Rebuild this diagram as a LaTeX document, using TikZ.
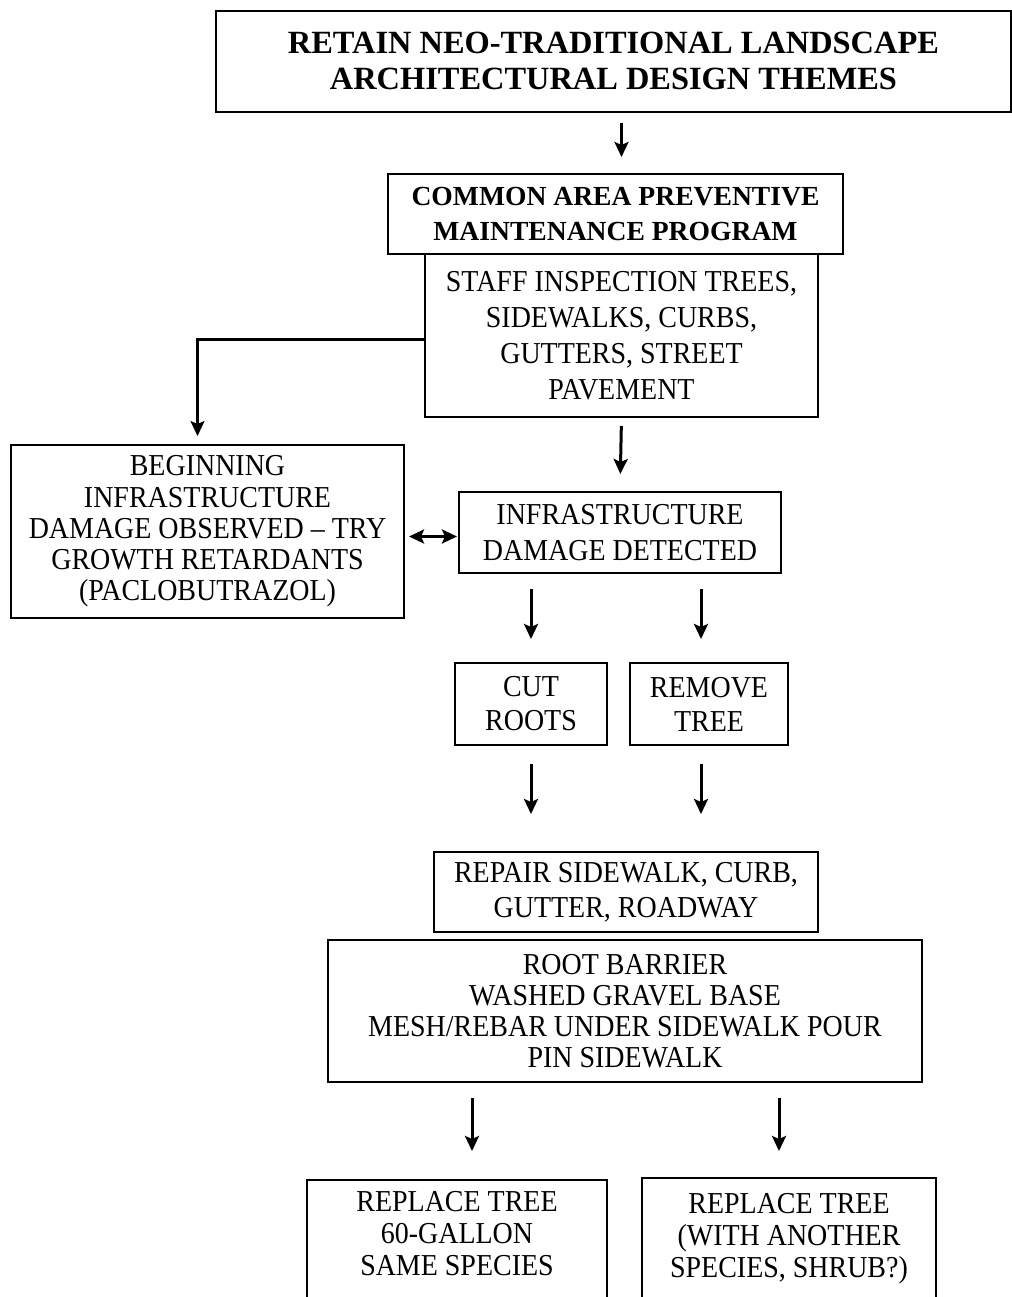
\documentclass[tikz,border=0pt]{standalone}
\usepackage{fontspec}
\setmainfont[FakeStretch=0.92]{Liberation Serif}
\newfontfamily\headfont{Liberation Serif}
\usepackage{tikz}
\usetikzlibrary{arrows.meta}

\tikzset{
  box/.style={draw, line width=1pt, align=center, inner sep=0pt,
    font=\fontsize{15.2}{17}\selectfont},
  boldbox/.style={box, font=\headfont\fontsize{16.2}{18}\selectfont\bfseries},
  arrow/.style={line width=1.5pt, -{Stealth[length=7.5pt, width=7pt, inset=1.5pt]}},
  dblarrow/.style={line width=1.5pt, {Stealth[length=7.5pt, width=7pt, inset=1.5pt]}-{Stealth[length=7.5pt, width=7pt, inset=1.5pt]}}
}

\begin{document}
\begin{tikzpicture}[x=0.5pt, y=-0.5pt]
\useasboundingbox (0,0) rectangle (1012,1297);

% boxes
\node[boldbox, minimum width=397.5pt, minimum height=50.5pt] (themes) at (613.5,61)
  {RETAIN NEO-TRADITIONAL LANDSCAPE\\ARCHITECTURAL DESIGN THEMES};
\node[boldbox, minimum width=227.5pt, minimum height=40pt, font=\headfont\fontsize{13.8}{17.5}\selectfont\bfseries] (program) at (615.5,214)
  {COMMON AREA PREVENTIVE\\MAINTENANCE PROGRAM};
\node[box, minimum width=196.5pt, minimum height=81.5pt, font=\fontsize{15.2}{18}\selectfont] (inspect) at (621.5,335.5)
  {STAFF INSPECTION TREES,\\SIDEWALKS, CURBS,\\GUTTERS, STREET\\PAVEMENT};
\node[box, minimum width=196.5pt, minimum height=86.5pt, font=\fontsize{15.2}{15.6}\selectfont] (beginning) at (207.5,531.5)
  {BEGINNING\\INFRASTRUCTURE\\DAMAGE OBSERVED -- TRY\\GROWTH RETARDANTS\\(PACLOBUTRAZOL)};
\node[box, minimum width=161pt, minimum height=40.5pt, font=\fontsize{15.2}{18}\selectfont] (detected) at (620,532.5)
  {INFRASTRUCTURE\\DAMAGE DETECTED};
\node[box, minimum width=76pt, minimum height=41pt] (cut) at (531,704) {CUT\\ROOTS};
\node[box, minimum width=79pt, minimum height=41pt] (remove) at (709,704) {REMOVE\\TREE};
\node[box, minimum width=192pt, minimum height=40pt, font=\fontsize{15.2}{17.5}\selectfont] (repair) at (626,892)
  {REPAIR SIDEWALK, CURB,\\GUTTER, ROADWAY};
\node[box, minimum width=297pt, minimum height=71pt, font=\fontsize{15.2}{15.6}\selectfont] (barrier) at (625,1011)
  {ROOT BARRIER\\WASHED GRAVEL BASE\\MESH/REBAR UNDER SIDEWALK POUR\\PIN SIDEWALK};
\node[box, anchor=north, minimum width=150pt, inner ysep=5.5pt, text depth=60pt, font=\fontsize{15.2}{16}\selectfont] (same) at (457,1179)
  {REPLACE TREE\\60-GALLON\\SAME SPECIES};
\node[box, anchor=north, minimum width=147pt, inner ysep=7.5pt, text depth=60pt, font=\fontsize{15.2}{16}\selectfont] (other) at (789,1177)
  {REPLACE TREE\\(WITH ANOTHER\\SPECIES, SHRUB?)};

% connectors
\draw[arrow, shorten <=5pt, shorten >=8pt] (themes.south -| inspect) -- (program.north -| inspect);
\draw[arrow, line width=1.1pt, shorten >=4pt] ([yshift=-2pt]inspect.west) -| ([xshift=-5pt]beginning.north);
\draw[arrow, shorten <=4pt, shorten >=8.5pt] (inspect.south) -- (detected.north);
\draw[dblarrow, shorten <=2pt, shorten >=0.5pt] ([yshift=-2.5pt]beginning.east) -- ([yshift=-2.5pt]beginning.east -| detected.west);
\draw[arrow, shorten <=7.5pt, shorten >=11.5pt] (detected.south -| cut) -- (cut.north);
\draw[arrow, shorten <=7.5pt, shorten >=11.5pt] ([xshift=-4pt]detected.south -| remove) -- ([xshift=-4pt]remove.north);
\draw[arrow, shorten <=9pt, shorten >=18.5pt] (cut.south) -- (cut.south |- repair.north);
\draw[arrow, shorten <=9pt, shorten >=18.5pt] ([xshift=-4pt]remove.south) -- ([xshift=-4pt]remove.south |- repair.north);
\draw[arrow, shorten <=7.5pt, shorten >=14pt] ([xshift=7.5pt]barrier.south -| same) -- ([xshift=7.5pt]same.north);
\draw[arrow, shorten <=7.5pt, shorten >=13pt] ([xshift=-5pt]barrier.south -| other) -- ([xshift=-5pt]other.north);
\end{tikzpicture}
\end{document}
